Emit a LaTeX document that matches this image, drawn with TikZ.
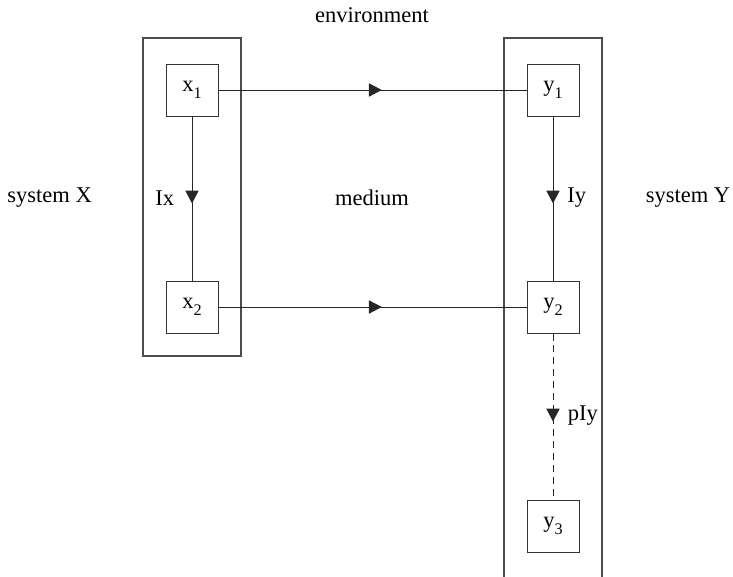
\documentclass[tikz,border=0pt]{standalone}
\usepackage{fontspec}
\setmainfont{Liberation Serif}
\usepackage{tikz}
\usetikzlibrary{arrows.meta,positioning,decorations.markings}

\newcommand{\sub}[1]{\raisebox{-5pt}{\fontsize{11.5}{12}\selectfont #1}}

\tikzset{
  state/.style={draw=black!80, line width=0.7pt, minimum size=1.3cm, inner sep=0pt},
  frame/.style={draw=black!70, line width=0.75pt},
  link/.style={draw=black!85, line width=0.7pt, postaction={decorate},
    decoration={markings, mark=at position 0.53 with
      {\arrow{Triangle[width=0.33cm,length=0.32cm]}}}},
}

\begin{document}
\begin{tikzpicture}[font=\fontsize{16}{19}\selectfont]
  \useasboundingbox (0,0) rectangle (18.325,14.4);
  % the two systems
  \draw[frame] (3.575,5.5) rectangle (6.025,13.45);
  \draw[frame] (12.6,-0.3) rectangle (15.05,13.45);

  \node[state] (x1) at (4.8,12.15) {x\sub{1}};
  \node[state] (x2) at (4.8,6.725) {x\sub{2}};
  \node[state] (y1) at (13.825,12.15) {y\sub{1}};
  \node[state] (y2) at (13.825,6.725) {y\sub{2}};
  \node[state] (y3) at (13.825,1.25) {y\sub{3}};

  \node (env) at (9.3,14.02) {environment};
  \node (sysx) at (1.24,9.45) {system X};
  \node (med) at (9.3,9.45) {medium};
  \node (sysy) at (17.2,9.45) {system Y};

  % information flows
  \draw[link] (x1) -- (y1);
  \draw[link] (x2) -- (y2);
  \draw[link] (x1) -- (x2);
  \draw[link] (y1) -- (y2);
  \draw[link, dash pattern=on 5pt off 3.5pt] (y2) -- (y3);

  \node (ix) at (4.12,9.45) {Ix};
  \node (iy) at (14.42,9.45) {Iy};
  \node (piy) at (14.57,4.0) {pIy};
\end{tikzpicture}
\end{document}
